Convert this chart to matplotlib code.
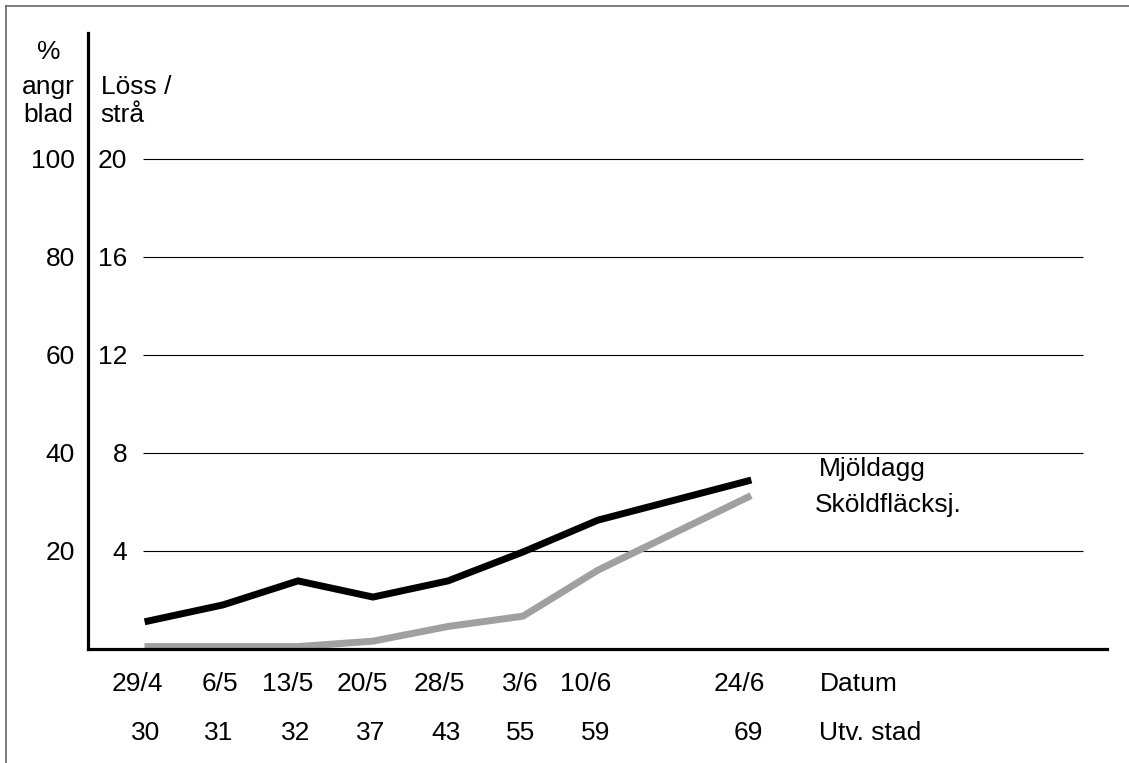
import numpy as np
import matplotlib
matplotlib.use("Agg")
import matplotlib.pyplot as plt
from matplotlib.lines import Line2D

plt.rcParams['font.family'] = ['Liberation Sans', 'DejaVu Sans']

# data
datum = ['29/4', '6/5', '13/5', '20/5', '28/5', '3/6', '10/6', '24/6']
utv_stad = ['30', '31', '32', '37', '43', '55', '59', '69']
pos = [0, 1, 2, 3, 4, 5, 6, 8]          # weekly slots, 17/6 missing
mjoldagg = [5.7, 9.0, 13.9, 10.6, 13.9, 19.8, 26.3, 34.3]      # % angr blad
skoldflack = [0.5, 0.5, 0.5, 1.6, 4.6, 6.7, 16.1, 31.0]        # % angr blad
pct_ticks = [20, 40, 60, 80, 100]
loss_ticks = [4, 8, 12, 16, 20]

# label nudges (slot units)
datum_x = [-0.147, 0.96, 1.867, 2.853, 3.88, 4.96, 5.84, 7.88]
utv_x = [-0.027, 0.947, 1.973, 2.973, 3.973, 4.973, 5.973, 8.0]

W, H = 1129, 763
PX = 4.9   # pixels per percent
fig = plt.figure(figsize=(W / 100, H / 100), dpi=100)
ax = fig.add_axes([88 / W, (H - 649) / H, 1019 / W, 616 / H])
ax.set_xlim(-0.8, 12.787)
ax.set_ylim(0, 616 / PX)

for s in ['top', 'right']:
    ax.spines[s].set_visible(False)
for s in ['left', 'bottom']:
    ax.spines[s].set_linewidth(2.3)
    ax.spines[s].set_color('black')
ax.set_xticks([])
ax.set_yticks([])

ax.hlines(pct_ticks, -0.067, 12.467, color='black', lw=0.8)

ax.plot(pos, mjoldagg, color='black', lw=5, solid_joinstyle='miter', zorder=3)
ax.plot(pos, skoldflack, color='#a0a0a0', lw=5, solid_joinstyle='miter', zorder=2)

fs = 19
tr_l = ax.get_yaxis_transform()
for p, l in zip(pct_ticks, loss_ticks):
    ax.text((75 - 88) / 1019, p - 9.4 / PX, str(p), transform=tr_l,
            ha='right', va='baseline', fontsize=fs)
    ax.text((127 - 88) / 1019, p - 9.4 / PX, str(l), transform=tr_l,
            ha='right', va='baseline', fontsize=fs)

# axis headers
fy = lambda px: (H - px) / H
fig.text(49 / W, fy(59), '%', ha='center', va='baseline', fontsize=fs)
fig.text(48 / W, fy(94), 'angr', ha='center', va='baseline', fontsize=fs)
fig.text(48.5 / W, fy(122), 'blad', ha='center', va='baseline', fontsize=fs)
fig.text(101 / W, fy(94), 'Löss /', ha='left', va='baseline', fontsize=fs)
fig.text(100 / W, fy(122), 'strå', ha='left', va='baseline', fontsize=fs)

# x labels
y1 = (649 - 691) / PX
y2 = (649 - 740) / PX
for x, d in zip(datum_x, datum):
    ax.text(x, y1, d, ha='center', va='baseline', fontsize=fs, clip_on=False)
for x, u in zip(utv_x, utv_stad):
    ax.text(x, y2, u, ha='center', va='baseline', fontsize=fs, clip_on=False)
ax.text((820 - 148) / 75, y1, 'Datum', ha='left', va='baseline', fontsize=fs, clip_on=False)
ax.text((819 - 148) / 75, y2, 'Utv. stad', ha='left', va='baseline', fontsize=fs, clip_on=False)

# series names
fig.text(819 / W, fy(476), 'Mjöldagg', ha='left', va='baseline', fontsize=fs)
fig.text(815 / W, fy(512), 'Sköldfläcksj.', ha='left', va='baseline', fontsize=fs)

# outer frame (top and left edge)
fig.add_artist(Line2D([6 / W, 6 / W], [0, fy(6)], color='#666666', lw=1.2))
fig.add_artist(Line2D([6 / W, 1], [fy(6), fy(6)], color='#666666', lw=1.2))

fig.savefig('out.png', dpi=100)
